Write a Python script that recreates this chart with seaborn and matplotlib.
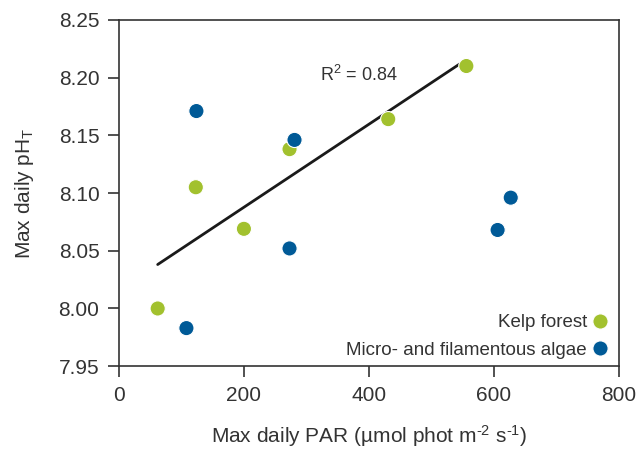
import matplotlib
matplotlib.use("Agg")
import matplotlib.pyplot as plt
import seaborn as sns
import numpy as np
import pandas as pd

kelp_par = [62, 123, 200, 273, 431, 556]
kelp_ph = [8.000, 8.105, 8.069, 8.138, 8.164, 8.210]
algae_par = [108, 124, 273, 281, 606, 627]
algae_ph = [7.983, 8.171, 8.052, 8.146, 8.068, 8.096]
x_ticks = [0, 200, 400, 600, 800]
y_ticks = [7.95, 8.00, 8.05, 8.10, 8.15, 8.20, 8.25]

green = "#a2c12e"
blue = "#005a97"
dark = "#333333"

sns.set_theme(style="ticks")
plt.rcParams['font.family'] = ['Liberation Sans', 'DejaVu Sans']
plt.rcParams['mathtext.fontset'] = 'custom'
plt.rcParams['mathtext.rm'] = 'Liberation Sans'
plt.rcParams['mathtext.it'] = 'Liberation Sans'

df = pd.DataFrame({
    "par": kelp_par + algae_par,
    "ph": kelp_ph + algae_ph,
    "group": ["Kelp forest"] * len(kelp_par) + ["Micro- and filamentous algae"] * len(algae_par),
})

fig = plt.figure(figsize=(6.36, 4.51), dpi=100)
ax = fig.add_axes([0.187, 0.188, 0.786, 0.768])

sns.regplot(x=kelp_par, y=kelp_ph, ax=ax, ci=None, scatter=False, truncate=True,
            line_kws=dict(color="#1a1a1a", lw=2))
sns.scatterplot(data=df, x="par", y="ph", hue="group", palette=[green, blue], ax=ax,
                s=120, edgecolor="white", linewidth=0.8, zorder=3)

ax.set_xlim(0, 800)
ax.set_ylim(7.95, 8.25)
ax.set_xticks(x_ticks)
ax.set_yticks(y_ticks)
ax.set_yticklabels([f"{v:.2f}" for v in y_ticks])
for s in ax.spines.values():
    s.set_visible(True)
    s.set_color(dark)
    s.set_linewidth(1.2)
ax.tick_params(direction="out", length=8, width=1.2, color=dark, labelsize=15, labelcolor=dark, pad=6)

ax.set_xlabel("Max daily PAR (µmol phot m$^{\\text{-2}}$ s$^{\\text{-1}}$)", fontsize=15, color=dark, labelpad=13)
ax.set_ylabel("Max daily pH$_\\mathregular{T}$", fontsize=15, color=dark, labelpad=16)

ax.text(322, 8.202, "R$^2$ = 0.84", fontsize=13, color=dark, va="center", ha="left")

leg = ax.legend(loc="lower right", frameon=False, markerfirst=False, fontsize=13.5,
                handletextpad=0.1, borderaxespad=0.1, borderpad=0.3, labelspacing=0.55,
                handlelength=1.2)
for t in leg.get_texts():
    t.set_color(dark)

fig.savefig("out.png", dpi=100)
